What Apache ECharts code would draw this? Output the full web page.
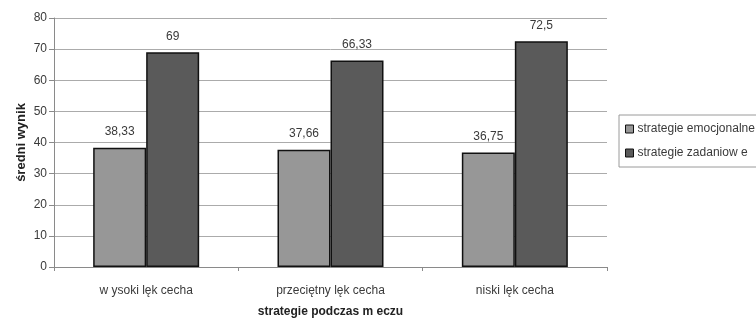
<!DOCTYPE html>
<html>
<head>
<meta charset="utf-8">
<script src="https://cdn.jsdelivr.net/npm/echarts@6/dist/echarts.min.js"></script>
<style>
  html, body { margin: 0; padding: 0; background: #fff; }
  #chart { width: 756px; height: 325px; }
</style>
</head>
<body>
<div id="chart"></div>
<script>
const categories = ['w ysoki lęk cecha', 'przeciętny lęk cecha', 'niski lęk cecha'];
const seriesNames = ['strategie emocjonalne', 'strategie zadaniow e'];
const emocjonalne = [38.33, 37.66, 36.75];
const zadaniowe = [69, 66.33, 72.5];
const yTicks = { min: 0, max: 80, interval: 10 };
const xTitle = 'strategie podczas m eczu';
const yTitle = 'średni wynik';

const font = 'Liberation Sans, Arial, sans-serif';
const textColor = '#3a3a3a';
const fmt = p => String(p.value).replace('.', ',');

const chart = echarts.init(document.getElementById('chart'), null, { renderer: 'canvas' });
chart.setOption({
  animation: false,
  backgroundColor: '#ffffff',
  textStyle: { fontFamily: font },
  grid: { left: 54, right: 149, top: 18, bottom: 58, containLabel: false },
  legend: {
    orient: 'vertical',
    left: 619, top: 115,
    padding: [8, 6, 8, 6],
    itemGap: 12,
    itemWidth: 8, itemHeight: 8,
    borderColor: '#9a9a9a', borderWidth: 1,
    textStyle: { fontFamily: font, fontSize: 12, color: textColor, padding: [0, 0, 0, -1] },
    data: seriesNames.map(n => ({ name: n, icon: 'rect', itemStyle: { borderColor: '#111', borderWidth: 1 } }))
  },
  xAxis: {
    type: 'category',
    data: categories,
    name: xTitle,
    nameLocation: 'middle',
    nameGap: 39,
    nameTextStyle: { fontFamily: font, fontSize: 12, fontWeight: 'bold', color: '#222' },
    axisLine: { lineStyle: { color: '#8a8a8a', width: 1 } },
    axisTick: { show: true, length: 4, alignWithLabel: false, lineStyle: { color: '#8a8a8a' } },
    axisLabel: { fontFamily: font, fontSize: 12, color: textColor, margin: 18 }
  },
  yAxis: {
    type: 'value',
    min: yTicks.min, max: yTicks.max, interval: yTicks.interval,
    name: yTitle,
    nameLocation: 'middle',
    nameGap: 26,
    nameMoveOverlap: false,
    nameTextStyle: { fontFamily: font, fontSize: 13, fontWeight: 'bold', color: '#222' },
    axisLine: { show: true, lineStyle: { color: '#8a8a8a', width: 1 } },
    axisTick: { show: true, length: 5, lineStyle: { color: '#8a8a8a' } },
    axisLabel: { fontFamily: font, fontSize: 12, color: textColor, margin: 7 },
    splitLine: { show: true, lineStyle: { color: '#ababab', width: 1 } }
  },
  series: [
    {
      name: seriesNames[0],
      type: 'bar',
      data: emocjonalne,
      barWidth: 53,
      barGap: '0%',
      itemStyle: { color: '#979797', borderColor: '#111', borderWidth: 1.5 },
      label: { show: true, position: 'top', distance: 10, formatter: fmt, fontFamily: font, fontSize: 12, color: textColor }
    },
    {
      name: seriesNames[1],
      type: 'bar',
      data: zadaniowe,
      barWidth: 53,
      barGap: '0%',
      itemStyle: { color: '#5a5a5a', borderColor: '#111', borderWidth: 1.5 },
      label: { show: true, position: 'top', distance: 10, formatter: fmt, fontFamily: font, fontSize: 12, color: textColor }
    }
  ]
});
</script>
</body>
</html>
